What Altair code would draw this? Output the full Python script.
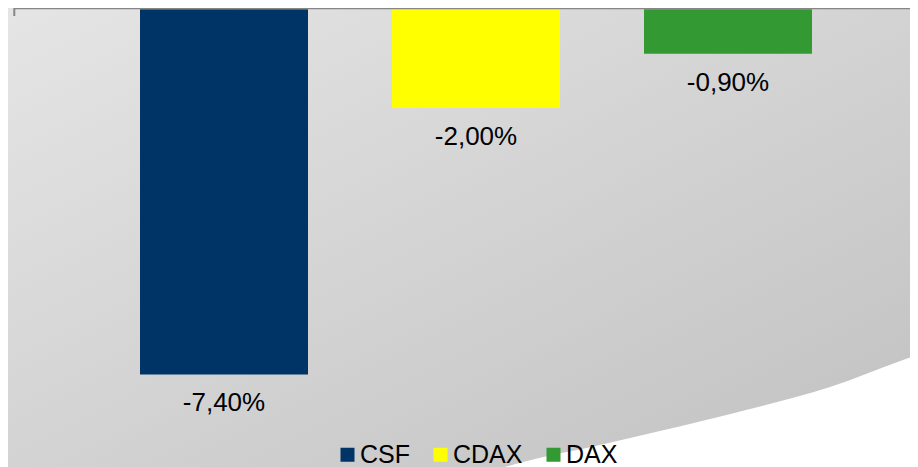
import altair as alt
import pandas as pd

# ---- data ----
categories = ["CSF", "CDAX", "DAX"]
values = [-7.40, -2.00, -0.90]
colors = ["#003366", "#FFFF00", "#339933"]
labels = [f"{v:.2f}".replace(".", ",") + "%" for v in values]

# decorative white swoosh (bottom-right), pixel coordinates of its edge
curve_x = [497, 515, 592, 652, 738, 822, 895, 915]
curve_y = [459, 454, 437, 423, 402, 379, 352, 345]

W, H = 902, 459
FONT = "Liberation Sans"

df = pd.DataFrame({"cat": categories, "val": values, "label": labels})
curve = pd.DataFrame({"px": curve_x, "py": curve_y, "base": [H + 2] * len(curve_x)})
one = alt.Data(values=[{"a": 1}])

xenc = alt.X("cat:N", sort=categories, axis=None,
             scale=alt.Scale(range=[6, 930], paddingInner=1/3, paddingOuter=0.5))
yscale = alt.Scale(domain=[-8, 0], range=[396, 1.3], nice=False, zero=False)

bg = alt.Chart(one).mark_rect(
    color=alt.Gradient(gradient="linear", x1=0, y1=0, x2=1, y2=1,
                       stops=[alt.GradientStop(offset=0, color="#e5e5e5"),
                              alt.GradientStop(offset=1, color="#c1c1c1")])
).encode(x=alt.value(0), x2=alt.value(W), y=alt.value(0), y2=alt.value(H))

swoosh = alt.Chart(curve).mark_area(color="white", interpolate="monotone",
                                    orient="vertical").encode(
    x=alt.X("px:Q", scale=None),
    y=alt.Y("py:Q", scale=None),
    y2=alt.Y2("base:Q"),
)

axis_line = alt.Chart(one).mark_rule(color="#868686", strokeWidth=2).encode(
    x=alt.value(6), x2=alt.value(W), y=alt.value(0.3)
)
axis_tick = alt.Chart(one).mark_rule(color="#868686", strokeWidth=2).encode(
    x=alt.value(6.3), y=alt.value(0), y2=alt.value(8)
)

bars = alt.Chart(df).mark_bar().encode(
    x=xenc,
    y=alt.Y("val:Q", scale=yscale, axis=None),
    color=alt.Color("cat:N", sort=categories,
                    scale=alt.Scale(domain=categories, range=colors),
                    legend=alt.Legend(title=None, orient="none", direction="horizontal",
                                      legendX=327, legendY=434, padding=0,
                                      symbolType="square", symbolSize=196,
                                      symbolStrokeWidth=0, labelFontSize=25,
                                      labelFont=FONT, labelColor="black",
                                      labelOffset=0, columnPadding=18)),
)

text = alt.Chart(df).mark_text(dy=37, baseline="alphabetic", align="center",
                               fontSize=26, font=FONT, color="black").encode(
    x=xenc,
    y=alt.Y("val:Q", scale=yscale, axis=None),
    text="label:N",
)

chart = alt.layer(bg, swoosh, bars, text, axis_line, axis_tick).properties(
    width=W, height=H,
    autosize=alt.AutoSizeParams(type="none"),
    padding=0,
).configure_view(stroke=None).configure(background="white")

chart.save("out.html", embed_options={"renderer": "svg", "actions": False})
